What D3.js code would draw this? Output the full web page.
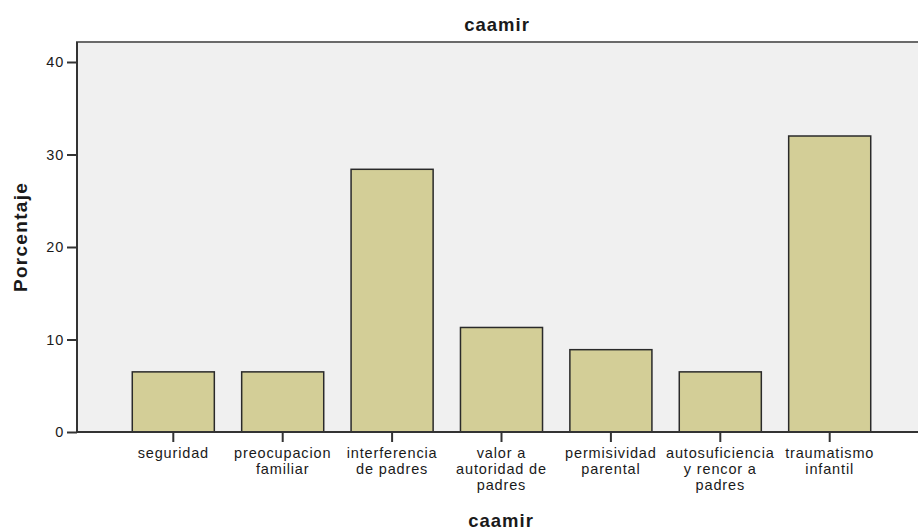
<!DOCTYPE html>
<html>
<head>
<meta charset="utf-8">
<script src="https://cdn.jsdelivr.net/npm/d3@7"></script>
<style>
  html, body { margin: 0; padding: 0; background: #ffffff; }
  svg { display: block; }
  text { font-family: "Liberation Sans", Arial, sans-serif; fill: #1a1a1a; }
</style>
</head>
<body>
<svg id="chart" width="918" height="530"></svg>
<script>
const chartTitle = "caamir";
const xTitle = "caamir";
const yTitle = "Porcentaje";
const categories = [
  "seguridad",
  "preocupacion familiar",
  "interferencia de padres",
  "valor a autoridad de padres",
  "permisividad parental",
  "autosuficiencia y rencor a padres",
  "traumatismo infantil"
];
const tickLabelLines = [
  ["seguridad"],
  ["preocupacion", "familiar"],
  ["interferencia", "de padres"],
  ["valor a", "autoridad de", "padres"],
  ["permisividad", "parental"],
  ["autosuficiencia", "y rencor a", "padres"],
  ["traumatismo", "infantil"]
];
const percentages = [6.5, 6.5, 28.4, 11.3, 8.9, 6.5, 32.0];
const yTicks = [0, 10, 20, 30, 40];

const svg = d3.select("#chart");
const frame = { left: 77, top: 42, right: 929, bottom: 432 };

const x = d3.scaleBand()
  .domain(categories)
  .range([118.6, 884.4])
  .paddingInner(0.25)
  .paddingOuter(0.125);

const y = d3.scaleLinear().domain([0, 40]).range([432, 62]);

// plot background
svg.append("rect")
  .attr("x", frame.left).attr("y", frame.top)
  .attr("width", frame.right - frame.left)
  .attr("height", frame.bottom - frame.top)
  .attr("fill", "#f0f0f0")
  .attr("stroke", "#6a6a6a")
  .attr("stroke-width", 2);

// bars
svg.append("g").selectAll("rect")
  .data(categories)
  .join("rect")
  .attr("x", d => x(d))
  .attr("y", (d, i) => y(percentages[i]))
  .attr("width", x.bandwidth())
  .attr("height", (d, i) => y(0) - y(percentages[i]))
  .attr("fill", "#d3ce97")
  .attr("stroke", "#2a2a2a")
  .attr("stroke-width", 1.5);

// y axis
const yAxis = svg.append("g")
  .attr("transform", `translate(${frame.left},0)`)
  .call(d3.axisLeft(y).tickValues(yTicks).tickSize(10).tickPadding(3).tickFormat(d3.format("d")));
yAxis.select(".domain").attr("d", `M0,${frame.top}V${frame.bottom}`).attr("stroke", "#333").attr("stroke-width", 2);
yAxis.selectAll(".tick line").attr("stroke", "#333").attr("stroke-width", 2);
yAxis.selectAll(".tick text")
  .style("font-family", "'Liberation Sans', Arial, sans-serif")
  .style("font-size", "14.5px")
  .style("letter-spacing", "0.8px")
  .attr("fill", "#1a1a1a");

// x axis
const xAxis = svg.append("g")
  .attr("transform", `translate(0,${frame.bottom})`)
  .call(d3.axisBottom(x).tickSize(10).tickFormat(""));
xAxis.select(".domain").attr("d", `M${frame.left},0H${frame.right}`).attr("stroke", "#333").attr("stroke-width", 2);
xAxis.selectAll(".tick line").attr("stroke", "#333").attr("stroke-width", 2);
xAxis.selectAll(".tick text").remove();
xAxis.selectAll(".tick").each(function(d, i) {
  const t = d3.select(this).append("text")
    .attr("text-anchor", "middle")
    .style("font-family", "'Liberation Sans', Arial, sans-serif")
    .style("font-size", "14.5px")
    .style("letter-spacing", "0.85px")
    .attr("fill", "#1a1a1a");
  tickLabelLines[i].forEach((line, j) => {
    t.append("tspan").attr("x", 0).attr("y", 26 + j * 16).text(line);
  });
});

// titles
svg.append("text")
  .attr("x", 497).attr("y", 31)
  .attr("text-anchor", "middle")
  .style("font-size", "18.5px").style("font-weight", "bold").style("letter-spacing", "1px")
  .text(chartTitle);

svg.append("text")
  .attr("x", 501).attr("y", 527)
  .attr("text-anchor", "middle")
  .style("font-size", "18.5px").style("font-weight", "bold").style("letter-spacing", "1px")
  .text(xTitle);

svg.append("text")
  .attr("transform", `translate(27,237) rotate(-90)`)
  .attr("text-anchor", "middle")
  .style("font-size", "19px").style("font-weight", "bold").style("letter-spacing", "1.3px")
  .text(yTitle);
</script>
</body>
</html>
